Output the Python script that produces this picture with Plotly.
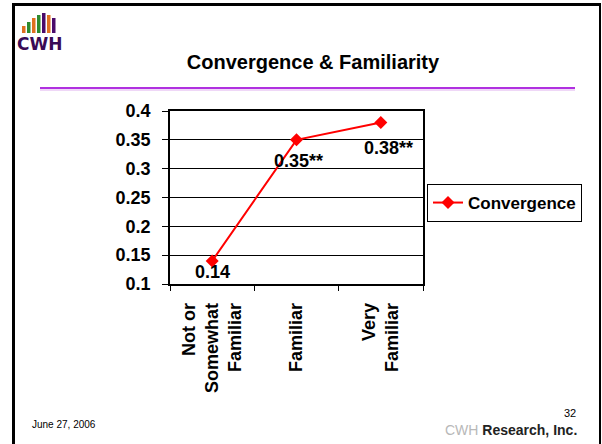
import plotly.graph_objects as go

categories = ["Not or<br>Somewhat<br>Familiar", "Familiar", "Very<br>Familiar"]
convergence = [0.14, 0.35, 0.38]
value_labels = ["0.14", "0.35**", "0.38**"]
label_shift_y = [-11, -21, -25]
label_shift_x = [0, 2, 8]
y_ticks = [0.1, 0.15, 0.2, 0.25, 0.3, 0.35, 0.4]

W, H = 602, 444
L, R, T, B = 170, 423, 111, 284  # plot area in px

def px(x):
    return (x - L) / (R - L)

def py(y):
    return (B - y) / (B - T)

FONT = "Liberation Sans, Arial, sans-serif"
FS = 18

fig = go.Figure()
fig.add_trace(go.Scatter(
    x=categories, y=convergence, mode="lines+markers", name="<b>Convergence</b>",
    line=dict(color="#FF0000", width=2),
    marker=dict(symbol="diamond", size=10, color="#FF0000"),
))

for c, v, t, dy, dx in zip(categories, convergence, value_labels, label_shift_y, label_shift_x):
    fig.add_annotation(x=c, y=v, text="<b>%s</b>" % t, showarrow=False,
                       yshift=dy, xshift=dx, yanchor="middle",
                       font=dict(family=FONT, size=FS, color="black"))

shapes = []
# slide frame
shapes.append(dict(type="line", xref="paper", yref="paper", x0=px(13.5), x1=px(13.5), y0=py(3), y1=py(446), line=dict(color="black", width=3)))
shapes.append(dict(type="line", xref="paper", yref="paper", x0=px(12), x1=px(601), y0=py(4.5), y1=py(4.5), line=dict(color="black", width=3)))
shapes.append(dict(type="line", xref="paper", yref="paper", x0=px(600), x1=px(600), y0=py(3), y1=py(446), line=dict(color="black", width=2)))
# purple rule
shapes.append(dict(type="line", xref="paper", yref="paper", x0=px(40), x1=px(575), y0=py(88), y1=py(88), line=dict(color="#B030E0", width=2)))
shapes.append(dict(type="line", xref="paper", yref="paper", x0=px(40), x1=px(575), y0=py(90), y1=py(90), line=dict(color="#E0B0F0", width=1)))
# logo bars
bar_cols = ["#E07020", "#2E8B2E", "#E07020", "#2E8B2E", "#4B0A6A", "#E07020", "#4B0A6A"]
bar_tops = [26, 22, 18, 15, 13, 15, 18]
for i, (col, top) in enumerate(zip(bar_cols, bar_tops)):
    x0 = 22 + i * 5
    shapes.append(dict(type="rect", xref="paper", yref="paper", x0=px(x0), x1=px(x0 + 3.5),
                       y0=py(33), y1=py(top), fillcolor=col, line=dict(width=0)))

fig.add_annotation(xref="paper", yref="paper", x=px(39), y=py(44), text="<b>CWH</b>", showarrow=False,
                   font=dict(family="DejaVu Sans, sans-serif", size=17, color="#3A0A55"),
                   xanchor="center", yanchor="middle")
# footer
fig.add_annotation(xref="paper", yref="paper", x=px(30), y=py(424), text="June 27, 2006", showarrow=False,
                   font=dict(family=FONT, size=10, color="black"), xanchor="left", yanchor="middle")
fig.add_annotation(xref="paper", yref="paper", x=px(578), y=py(413), text="32", showarrow=False,
                   font=dict(family=FONT, size=11, color="black"), xanchor="right", yanchor="middle")
fig.add_annotation(xref="paper", yref="paper", x=px(579), y=py(430),
                   text="<span style='color:#B8B8B8'>CWH</span><b> Research, Inc.</b>", showarrow=False,
                   font=dict(family=FONT, size=14, color="#222222"), xanchor="right", yanchor="middle")

fig.update_layout(
    width=W, height=H,
    margin=dict(l=L, r=W - R, t=T, b=H - B),
    paper_bgcolor="white", plot_bgcolor="white",
    font=dict(family=FONT, color="black"),
    title=dict(text="<b>Convergence & Familiarity</b>", x=313 / W, xanchor="center",
               y=1 - 62 / H, yanchor="middle", yref="container",
               font=dict(family=FONT, size=20, color="black")),
    shapes=shapes,
    showlegend=True,
    legend=dict(x=px(427), y=py(184), xanchor="left", yanchor="top",
                bordercolor="black", borderwidth=1, bgcolor="white",
                font=dict(family=FONT, size=17, color="black"),
                itemwidth=30, tracegroupgap=0),
)
fig.update_xaxes(
    type="category", range=[-0.5, 2.5], showline=True, linecolor="black", linewidth=1.5,
    mirror=True, ticks="outside", ticklen=5, tickcolor="black", tickson="boundaries",
    tickangle=-90, showgrid=False, ticklabelstandoff=10,
    tickfont=dict(family=FONT, size=FS, color="black"),
    ticktext=["<b>" + c + "</b>" for c in categories], tickvals=categories,
)
fig.update_yaxes(
    range=[0.1, 0.4], showline=True, linecolor="black", linewidth=1.5,
    mirror=True, ticks="outside", ticklen=6, tickcolor="black", ticklabelstandoff=8,
    showgrid=True, gridcolor="black", gridwidth=1,
    tickfont=dict(family=FONT, size=FS, color="black"),
    ticktext=["<b>%g</b>" % v for v in y_ticks], tickvals=y_ticks,
)
fig.write_html("out.html", config={"displayModeBar": False},
               post_script="document.body.style.margin='0';document.body.style.overflow='hidden';")
